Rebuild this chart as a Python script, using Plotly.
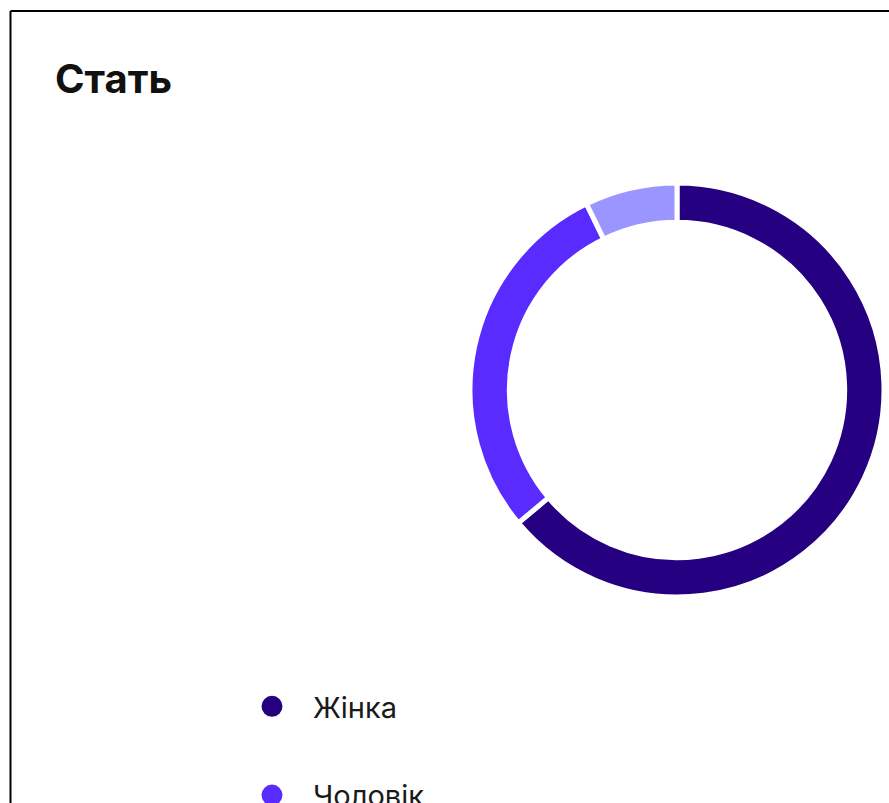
import plotly.graph_objects as go

labels = ["Жінка", "Чоловік", "Інше"]
values = [63.9, 28.9, 7.2]
colors = ["#250080", "#5a2bff", "#9b96ff"]
title_text = "Стать"

W, H = 889, 803
FONT = "Inter, 'Noto Sans', Arial, sans-serif"

fig = go.Figure()

# donut
cx, cy, r = 677, 390, 207
fig.add_trace(go.Pie(
    labels=labels,
    values=values,
    hole=0.81,
    sort=False,
    direction="clockwise",
    rotation=0,
    marker=dict(colors=colors, line=dict(color="white", width=5)),
    textinfo="none",
    hoverinfo="label+percent",
    showlegend=False,
    domain=dict(x=[(cx - r) / W, (cx + r) / W],
                y=[(H - cy - r) / H, (H - cy + r) / H]),
))

# legend entries (circle markers)
for i, (lab, col) in enumerate(zip(labels, colors)):
    fig.add_trace(go.Scatter(
        x=[None], y=[None], mode="markers", name=lab,
        legendgroup=f"g{i}",
        marker=dict(symbol="circle", size=16, color=col,
                    line=dict(color=col, width=5)),
        showlegend=True,
    ))

fig.add_annotation(
    text=f"<b>{title_text}</b>", xref="paper", yref="paper",
    x=53 / W, y=1 - 79 / H, xanchor="left", yanchor="middle",
    showarrow=False, font=dict(family=FONT, size=40, color="#111111"),
)

# card border (top & left visible)
fig.add_shape(type="line", xref="paper", yref="paper",
              x0=10.5 / W, x1=1.02, y0=1 - 11 / H, y1=1 - 11 / H,
              line=dict(color="black", width=2))
fig.add_shape(type="line", xref="paper", yref="paper",
              x0=10.5 / W, x1=10.5 / W, y0=-0.02, y1=1 - 11 / H,
              line=dict(color="black", width=2))

fig.update_layout(
    width=W, height=H,
    margin=dict(l=0, r=0, t=0, b=0, autoexpand=False),
    paper_bgcolor="white", plot_bgcolor="white",
    xaxis=dict(visible=False), yaxis=dict(visible=False),
    showlegend=True,
    legend=dict(
        xref="paper", yref="paper",
        x=231 / W, xanchor="left",
        y=1 - 681 / H, yanchor="top",
        orientation="v",
        itemwidth=72,
        tracegroupgap=48,
        font=dict(family=FONT, size=29, color="#1a1a1a"),
        bgcolor="rgba(0,0,0,0)",
        itemclick=False, itemdoubleclick=False,
    ),
)

fig.write_html("out.html")
